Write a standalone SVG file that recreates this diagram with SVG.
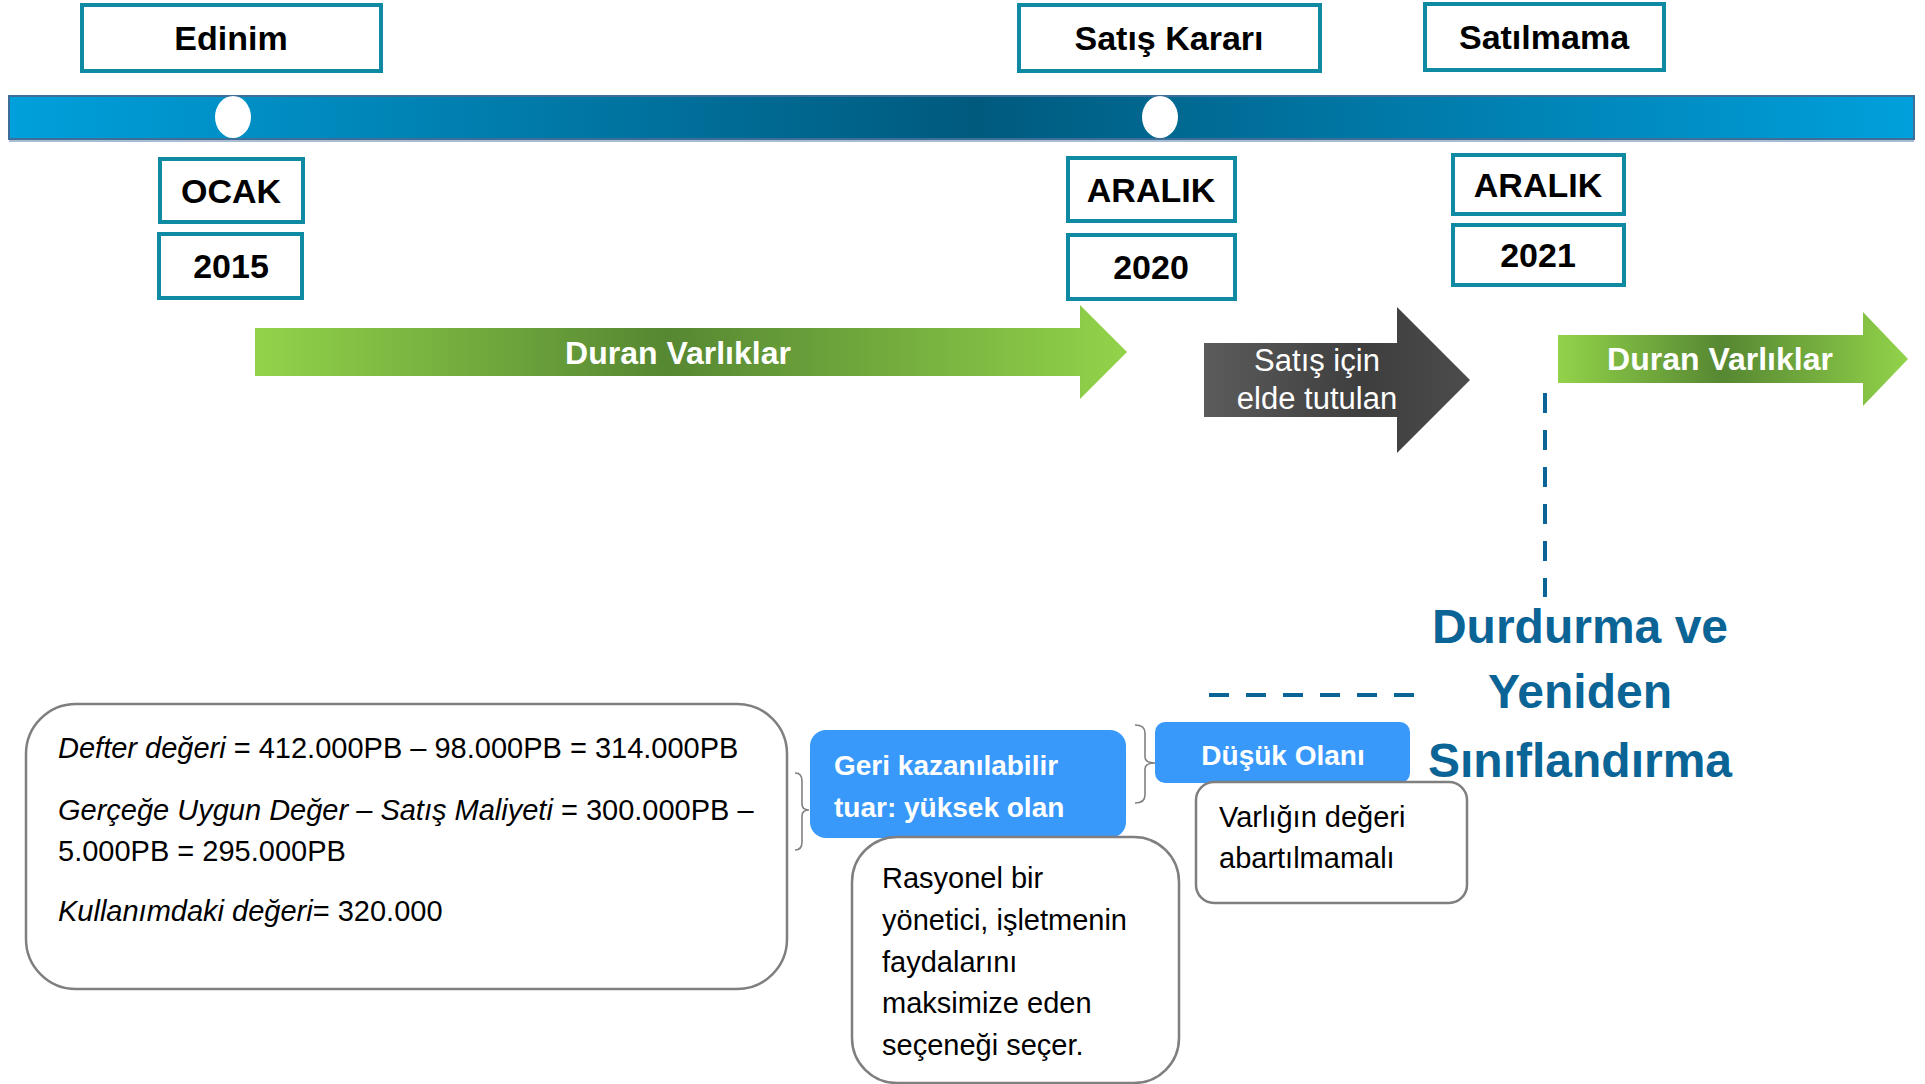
<svg xmlns="http://www.w3.org/2000/svg" width="1925" height="1084" viewBox="0 0 1925 1084">
<style>
text{font-family:"Liberation Sans",Arial,sans-serif}
.lbl{fill:#fff;stroke:#0f8aa3;stroke-width:4}
.lt{font-size:34px;font-weight:bold;fill:#000;text-anchor:middle}
.wt{font-size:32px;font-weight:bold;fill:#fff;text-anchor:middle}
.card{fill:#fff;stroke:#7f7f7f;stroke-width:2.5}
.blue{fill:#3899fb}
.bt{font-size:28px;font-weight:bold;fill:#fff}
.body{font-size:29px;fill:#000}
.dash{stroke:#0a6496;stroke-width:4;stroke-dasharray:20 17;fill:none}
.brace{fill:none;stroke:#808080;stroke-width:1.6}
.big{font-size:48px;font-weight:bold;fill:#0a6496;text-anchor:middle}
</style>
<defs>
<linearGradient id="gBar" x1="0" y1="0" x2="1" y2="0">
<stop offset="0" stop-color="#00a0dc"/>
<stop offset="0.507" stop-color="#005a7e"/>
<stop offset="1" stop-color="#00a0dc"/>
</linearGradient>
<linearGradient id="gGreen" x1="0" y1="0" x2="1" y2="0">
<stop offset="0" stop-color="#92d34a"/>
<stop offset="0.47" stop-color="#568732"/>
<stop offset="1" stop-color="#92d34a"/>
</linearGradient>
<linearGradient id="gDark" x1="0" y1="0" x2="1" y2="0">
<stop offset="0" stop-color="#5c5c5c"/>
<stop offset="0.6" stop-color="#3e3e3e"/>
<stop offset="1" stop-color="#4c4c4c"/>
</linearGradient>
</defs>
<rect width="1925" height="1084" fill="#fff"/>

<g id="timeline">
<line x1="9" y1="141" x2="1914" y2="141" stroke="#a9bdd2" stroke-width="2"/>
<rect x="9" y="96" width="1905" height="43" fill="url(#gBar)" stroke="#3d6d99" stroke-width="2"/>
<ellipse cx="233" cy="117" rx="18" ry="21" fill="#fff"/>
<ellipse cx="1160" cy="117" rx="18" ry="21" fill="#fff"/>
</g>

<g id="edinim"><rect class="lbl" x="82" y="5" width="299" height="66"/><text class="lt" x="231" y="50">Edinim</text></g>
<g id="satis-karari"><rect class="lbl" x="1019" y="5" width="301" height="66"/><text class="lt" x="1169" y="50">Satış Kararı</text></g>
<g id="satilmama"><rect class="lbl" x="1425" y="4" width="239" height="66"/><text class="lt" x="1544" y="49">Satılmama</text></g>

<g id="ocak"><rect class="lbl" x="160" y="159" width="143" height="63"/><text class="lt" x="231" y="203">OCAK</text></g>
<g id="y2015"><rect class="lbl" x="159" y="234" width="143" height="64"/><text class="lt" x="231" y="278">2015</text></g>
<g id="aralik1"><rect class="lbl" x="1068" y="158" width="167" height="63"/><text class="lt" x="1151" y="202">ARALIK</text></g>
<g id="y2020"><rect class="lbl" x="1068" y="235" width="167" height="64"/><text class="lt" x="1151" y="279">2020</text></g>
<g id="aralik2"><rect class="lbl" x="1453" y="155" width="171" height="59"/><text class="lt" x="1538" y="197">ARALIK</text></g>
<g id="y2021"><rect class="lbl" x="1453" y="225" width="171" height="60"/><text class="lt" x="1538" y="267">2021</text></g>

<g id="arrow-duran1">
<polygon points="255,328 1080,328 1080,305 1127,352 1080,399 1080,376 255,376" fill="url(#gGreen)"/>
<text class="wt" x="678" y="364">Duran Varlıklar</text>
</g>
<g id="arrow-satis">
<polygon points="1204,343 1397,343 1397,307 1470,380 1397,453 1397,417 1204,417" fill="url(#gDark)"/>
<text x="1317" y="371" font-size="31" fill="#fff" text-anchor="middle">Satış için</text>
<text x="1317" y="409" font-size="31" fill="#fff" text-anchor="middle">elde tutulan</text>
</g>
<g id="arrow-duran2">
<polygon points="1558,335 1863,335 1863,312 1908,359 1863,406 1863,383 1558,383" fill="url(#gGreen)"/>
<text class="wt" x="1720" y="370">Duran Varlıklar</text>
</g>

<g id="connectors">
<line class="dash" x1="1545" y1="393" x2="1545" y2="597"/>
<line class="dash" x1="1209" y1="695" x2="1415" y2="695"/>
<path class="brace" d="M795,773 Q802,773 802,781 L802,804 Q802,810 809,810 Q802,810 802,816 L802,842 Q802,850 795,850"/>
<path class="brace" d="M1135,725 Q1145,725 1145,733 L1145,757 Q1145,763 1155,763 Q1145,763 1145,769 L1145,795 Q1145,803 1135,803"/>
</g>

<g id="durdurma">
<text class="big" x="1580" y="643">Durdurma ve</text>
<text class="big" x="1580" y="708">Yeniden</text>
<text class="big" x="1580" y="777">Sınıflandırma</text>
</g>

<g id="hesap">
<rect class="card" x="26" y="704" width="761" height="285" rx="50"/>
<text class="body" x="58" y="758"><tspan font-style="italic">Defter değeri</tspan> = 412.000PB – 98.000PB = 314.000PB</text>
<text class="body" x="58" y="820"><tspan font-style="italic">Gerçeğe Uygun Değer – Satış Maliyeti</tspan> = 300.000PB –</text>
<text class="body" x="58" y="861">5.000PB = 295.000PB</text>
<text class="body" x="58" y="921"><tspan font-style="italic">Kullanımdaki değeri</tspan>= 320.000</text>
</g>

<g id="geri">
<rect class="blue" x="810" y="730" width="316" height="108" rx="16"/>
<text class="bt" x="834" y="775">Geri kazanılabilir</text>
<text class="bt" x="834" y="817">tuar: yüksek olan</text>
</g>

<g id="rasyonel">
<rect class="card" x="852" y="837" width="327" height="246" rx="45"/>
<text class="body" font-size="30" x="882" y="888">Rasyonel bir</text>
<text class="body" font-size="30" x="882" y="930">yönetici, işletmenin</text>
<text class="body" font-size="30" x="882" y="972">faydalarını</text>
<text class="body" font-size="30" x="882" y="1013">maksimize eden</text>
<text class="body" font-size="30" x="882" y="1055">seçeneği seçer.</text>
</g>

<g id="dusuk">
<rect class="blue" x="1155" y="722" width="255" height="61" rx="10"/>
<text class="bt" x="1283" y="765" text-anchor="middle">Düşük Olanı</text>
</g>

<g id="varlik">
<rect class="card" x="1196" y="782" width="271" height="121" rx="18"/>
<text class="body" font-size="30" x="1219" y="827">Varlığın değeri</text>
<text class="body" font-size="30" x="1219" y="868">abartılmamalı</text>
</g>
</svg>
